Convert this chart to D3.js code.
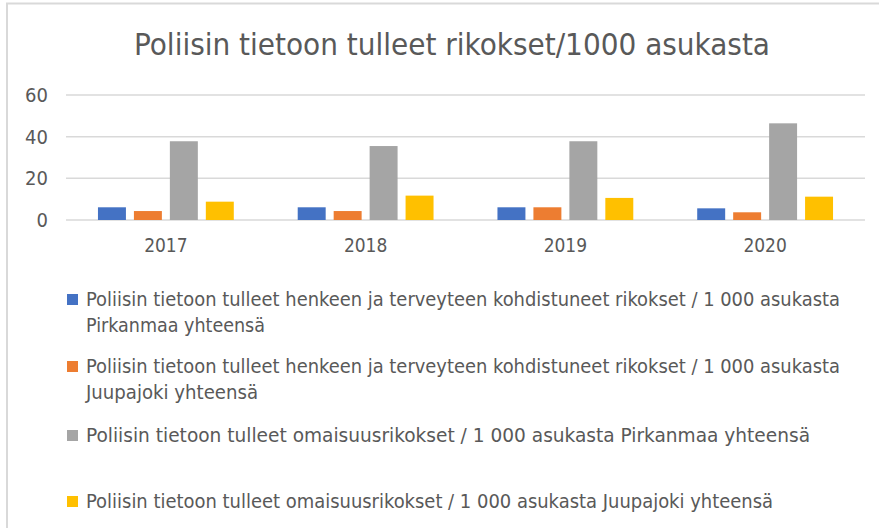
<!DOCTYPE html>
<html>
<head>
<meta charset="utf-8">
<script src="https://cdn.jsdelivr.net/npm/d3@7"></script>
<style>
  html, body { margin: 0; padding: 0; background: #fff; }
  svg { display: block; }
  text { font-family: "Liberation Sans Narrow", "DejaVu Sans Condensed", "Roboto", sans-serif; fill: #595959; }
</style>
</head>
<body>
<svg width="879" height="528"></svg>
<script>
const years = ["2017", "2018", "2019", "2020"];
const seriesNames = [
  "Poliisin tietoon tulleet henkeen ja terveyteen kohdistuneet rikokset / 1 000 asukasta Pirkanmaa yhteensä",
  "Poliisin tietoon tulleet henkeen ja terveyteen kohdistuneet rikokset / 1 000 asukasta Juupajoki yhteensä",
  "Poliisin tietoon tulleet omaisuusrikokset / 1 000 asukasta Pirkanmaa yhteensä",
  "Poliisin tietoon tulleet omaisuusrikokset / 1 000 asukasta Juupajoki yhteensä"
];
const henkiPirkanmaa = [6.1, 6.1, 6.1, 5.6];
const henkiJuupajoki = [4.3, 4.3, 6.1, 3.7];
const omaisuusPirkanmaa = [37.8, 35.5, 37.8, 46.4];
const omaisuusJuupajoki = [8.8, 11.7, 10.6, 11.2];
const yTicks = [0, 20, 40, 60];
const colors = ["#4472C4", "#ED7D31", "#A5A5A5", "#FFC000"];

const allSeries = [henkiPirkanmaa, henkiJuupajoki, omaisuusPirkanmaa, omaisuusJuupajoki];

const svg = d3.select("svg");

// chart frame
svg.append("rect")
  .attr("x", 7).attr("y", 3.5)
  .attr("width", 900).attr("height", 540)
  .attr("fill", "none")
  .attr("stroke", "#d9d9d9")
  .attr("stroke-width", 2);

const x = d3.scaleBand().domain(years).range([66, 865]);
const xi = d3.scaleBand().domain(d3.range(4)).range([0, x.bandwidth()])
  .paddingInner(8 / 36).paddingOuter(0.889);
const y = d3.scaleLinear().domain([0, 60]).range([220, 95]);

// title
svg.append("text")
  .attr("x", 452).attr("y", 55)
  .attr("text-anchor", "middle")
  .style("font-size", "30px")
  .attr("textLength", 636)
  .attr("lengthAdjust", "spacingAndGlyphs")
  .text("Poliisin tietoon tulleet rikokset/1000 asukasta");

// gridlines
svg.append("g")
  .selectAll("line")
  .data(yTicks)
  .join("line")
  .attr("x1", 66).attr("x2", 865)
  .attr("y1", d => y(d)).attr("y2", d => y(d))
  .attr("stroke", "#d9d9d9")
  .attr("stroke-width", 1.5);

// y axis labels
const yAxis = svg.append("g")
  .attr("transform", "translate(48,0)")
  .call(d3.axisLeft(y).tickValues(yTicks).tickSize(0).tickPadding(0));
yAxis.select(".domain").remove();
yAxis.selectAll("text")
  .style("font-size", "20px")
  .style("font-family", "\"Liberation Sans Narrow\", \"DejaVu Sans Condensed\", sans-serif")
  .attr("fill", "#595959");

// x axis labels
const xAxis = svg.append("g")
  .attr("transform", "translate(0,238)")
  .call(d3.axisBottom(x).tickSize(0).tickPadding(0));
xAxis.select(".domain").remove();
xAxis.selectAll("text")
  .style("font-size", "19px")
  .style("font-family", "\"Liberation Sans Narrow\", \"DejaVu Sans Condensed\", sans-serif")
  .attr("fill", "#595959");

// bars
const groups = svg.append("g")
  .selectAll("g")
  .data(years)
  .join("g")
  .attr("transform", d => `translate(${x(d)},0)`);

groups.selectAll("rect")
  .data((yr, i) => allSeries.map((s, k) => ({ k, v: s[i] })))
  .join("rect")
  .attr("x", d => xi(d.k))
  .attr("width", xi.bandwidth())
  .attr("y", d => y(d.v))
  .attr("height", d => y(0) - y(d.v))
  .attr("fill", d => colors[d.k]);

// legend
const legendRows = [
  { lines: [seriesNames[0].replace(" Pirkanmaa yhteensä", ""), "Pirkanmaa yhteensä"], y: 306 },
  { lines: [seriesNames[1].replace(" Juupajoki yhteensä", ""), "Juupajoki yhteensä"], y: 373 },
  { lines: [seriesNames[2]], y: 442 },
  { lines: [seriesNames[3]], y: 508 }
];
const lineWidths = [[754, 179], [754, 172], [724], [687]];

const legend = svg.append("g");
legendRows.forEach((row, i) => {
  legend.append("rect")
    .attr("x", 67).attr("y", row.y - 12)
    .attr("width", 11).attr("height", 11)
    .attr("fill", colors[i]);
  row.lines.forEach((line, j) => {
    legend.append("text")
      .attr("x", 86)
      .attr("y", row.y + j * 26)
      .style("font-size", "19px")
      .attr("textLength", lineWidths[i][j])
      .attr("lengthAdjust", "spacingAndGlyphs")
      .text(line);
  });
});
</script>
</body>
</html>
